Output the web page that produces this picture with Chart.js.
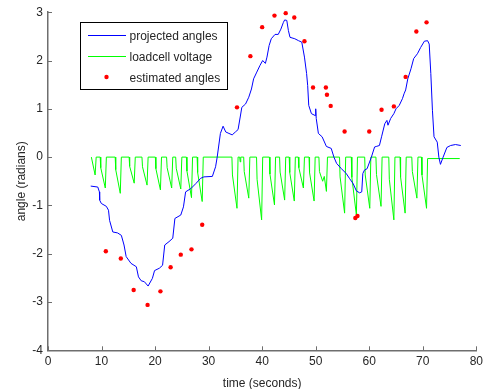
<!DOCTYPE html>
<html><head><meta charset="utf-8">
<script src="https://cdn.jsdelivr.net/npm/chart.js@4/dist/chart.umd.min.js"></script>
<style>html,body{margin:0;padding:0;background:#fff;}canvas{display:block;}</style>
</head><body>
<canvas id="c" width="487" height="389"></canvas>
<script>
// ---- data ----
const seriesNames = ['projected angles', 'loadcell voltage', 'estimated angles'];
const xTickValues = [0, 10, 20, 30, 40, 50, 60, 70, 80];
const yTickValues = [-4, -3, -2, -1, 0, 1, 2, 3];

const projT = [7.98,9.3,9.6,9.65,9.96,10.9,11.3,11.5,12.1,13.0,13.7,14.2,14.6,15.5,16.5,16.9,17.4,18.0,18.7,19.5,19.9,20.8,21.4,21.8,22.6,23.3,23.7,24.8,25.3,25.7,26.7,27.6,28.5,29.1,30.7,31.3,31.6,32.2,32.7,33.2,33.8,34.4,35.0,35.5,35.9,36.2,36.9,37.5,38.0,38.4,39.0,39.6,40.1,40.6,40.9,41.3,41.7,42.4,43.0,43.5,43.97,44.2,44.6,44.9,45.2,46.1,46.8,47.4,47.9,48.3,48.5,48.7,49.2,49.9,50.0,50.1,50.5,51.2,52.0,52.9,53.4,53.9,54.8,55.7,56.3,57.0,57.6,58.2,58.6,58.8,59.1,59.6,60.4,61.0,61.3,61.9,62.3,62.9,63.3,63.5,64.0,64.6,65.0,65.6,66.2,66.5,66.8,67.2,67.8,68.3,69.0,69.6,70.3,70.9,71.2,71.5,71.8,72.1,72.7,73.0,73.3,73.8,74.5,75.2,76.1,77.1];
const projAngle = [-0.60,-0.62,-0.72,-0.89,-0.96,-1.02,-1.10,-1.31,-1.55,-1.57,-1.62,-1.82,-2.06,-2.20,-2.27,-2.48,-2.56,-2.58,-2.67,-2.51,-2.35,-2.30,-2.24,-1.82,-1.75,-1.68,-1.27,-1.20,-1.03,-0.72,-0.65,-0.55,-0.44,-0.41,-0.40,-0.20,0.0,0.49,0.64,0.52,0.49,0.46,0.52,0.57,0.83,1.03,1.10,1.24,1.41,1.62,1.76,1.90,2.00,1.94,2.07,2.31,2.45,2.54,2.54,2.65,2.79,2.84,2.83,2.62,2.48,2.45,2.41,2.38,2.07,1.73,1.48,1.07,0.90,0.86,1.00,0.80,0.49,0.42,0.22,0.18,0.0,-0.13,-0.24,-0.34,-0.44,-0.55,-0.70,-0.74,-0.72,-0.34,-0.27,-0.24,0.0,0.21,0.22,0.24,0.42,0.69,0.76,0.66,0.80,0.90,1.00,1.07,1.21,1.31,1.39,1.62,1.83,2.04,2.14,2.27,2.40,2.41,2.34,1.73,0.97,0.42,0.31,0.0,-0.15,0.0,0.20,0.24,0.26,0.24];

const loadT = [8.1,8.8,9.0, 9.75,9.85,10.7,10.9, 12.55,12.65,13.5,13.7, 15.15,15.25,16.1,16.3, 17.55,17.65,18.5,18.7, 20.05,20.15,21.0,21.2, 22.15,22.25,23.1,23.3, 23.85,23.95,24.8,25.0, 25.85,25.95,26.8,27.0, 27.85,27.95,28.8,29.0, 34.35,34.45,35.3,35.5, 35.8,35.9,36.0, 36.55,36.65,37.5,37.7, 38.95,39.05,39.9,40.1, 41.35,41.45,42.3,42.5, 43.25,43.35,44.2,44.4, 45.05,45.15,46.0,46.2, 46.75,46.85,47.7,47.9, 48.75,48.85,49.7,49.9, 50.6,50.7,51.3,51.6,52.0,52.2, 54.45,54.55,55.4,55.6, 56.65,56.75,57.6,57.8, 59.15,59.25,60.1,60.3, 61.25,61.35,62.2,62.4, 63.65,63.75,64.6,64.8, 65.75,65.85,66.7,66.9, 67.95,68.05,68.9,69.1, 69.75,69.85,70.7,70.9, 76.9];
const loadV = [0,-0.37,0, 0,-0.22,-0.64,0, 0,-0.26,-0.75,0, 0,-0.19,-0.54,0, 0,-0.20,-0.58,0, 0,-0.24,-0.68,0, 0,-0.22,-0.64,0, 0,-0.23,-0.66,0, 0,-0.29,-0.84,0, 0,-0.32,-0.92,0, 0,-0.37,-1.06,0, 0,-0.10,0, 0,-0.30,-0.85,0, 0,-0.46,-1.30,0, 0,-0.35,-0.99,0, 0,-0.31,-0.89,0, 0,-0.32,-0.91,0, 0,-0.22,-0.64,0, 0,-0.32,-0.91,0, 0,-0.30,-0.50,-0.40,-0.71,0, 0,-0.41,-1.16,0, 0,-0.42,-1.20,0, 0,-0.37,-1.06,0, 0,-0.36,-1.02,0, 0,-0.46,-1.30,0, 0,-0.41,-1.16,0, 0,-0.30,-0.85,0, 0,-0.37,-1.06,-0.03, -0.03];

const estT = [10.8,13.6,16.0,18.6,21.0,22.9,24.8,26.8,28.8,35.3,37.8,40.0,42.3,44.4,46.0,47.9,49.5,51.9,52.1,52.8,55.4,57.4,57.8,60.0,62.3,64.6,66.8,68.8,70.7];
const estAngle = [-1.95,-2.10,-2.75,-3.06,-2.78,-2.28,-2.02,-1.91,-1.40,1.03,2.09,2.69,2.93,2.98,2.89,2.40,1.44,1.44,1.29,1.06,0.53,-1.26,-1.22,0.53,0.98,1.05,1.66,2.60,2.79];

// ---- build ----
const zip = (xs, ys) => xs.map((x, i) => ({x: x, y: ys[i]}));
const FONT = 'Liberation Sans, Arial, Helvetica, sans-serif';
const TXT = '#262626';
const AXIS = '#6e6e6e';

const inwardTicks = {
  id: 'inwardTicks',
  afterDraw(chart) {
    const ctx = chart.ctx, xs = chart.scales.x, ys = chart.scales.y;
    const L = xs.left, B = ys.bottom;
    ctx.save();
    ctx.strokeStyle = AXIS; ctx.lineWidth = 1;
    ctx.beginPath();
    xTickValues.forEach(v => { const p = Math.round(xs.getPixelForValue(v)) + 0.5; ctx.moveTo(p, B); ctx.lineTo(p, B - 4); });
    yTickValues.forEach(v => { const p = Math.round(ys.getPixelForValue(v)) + 0.5; ctx.moveTo(L, p); ctx.lineTo(L + 4, p); });
    ctx.stroke();
    ctx.restore();
  }
};

const boxLegend = {
  id: 'boxLegend',
  afterDraw(chart) {
    const ctx = chart.ctx;
    const bx = 80.5, by = 22.5, bw = 147, bh = 67;
    ctx.save();
    ctx.fillStyle = '#fff'; ctx.fillRect(bx, by, bw, bh);
    ctx.strokeStyle = '#000'; ctx.lineWidth = 1; ctx.strokeRect(bx, by, bw, bh);
    ctx.font = '12px ' + FONT; ctx.fillStyle = TXT; ctx.textBaseline = 'middle'; ctx.textAlign = 'left';
    const rows = [35, 56, 77];
    chart.data.datasets.forEach((ds, i) => {
      const y = rows[i];
      if (ds.showLine !== false) {
        ctx.strokeStyle = ds.borderColor; ctx.lineWidth = 1;
        ctx.beginPath(); ctx.moveTo(88, y + 0.5); ctx.lineTo(126, y + 0.5); ctx.stroke();
      } else {
        ctx.fillStyle = ds.backgroundColor;
        ctx.beginPath(); ctx.arc(106.5, y, 2.2, 0, Math.PI * 2); ctx.fill();
      }
      ctx.fillStyle = TXT;
      ctx.fillText(ds.label, 129.5, y + 1.5);
    });
    ctx.restore();
  }
};

new Chart(document.getElementById('c'), {
  type: 'line',
  data: {
    datasets: [
      {label: seriesNames[0], data: zip(projT, projAngle), borderColor: '#0000ff', borderWidth: 1, pointRadius: 0, tension: 0, order: 1},
      {label: seriesNames[1], data: zip(loadT, loadV), borderColor: '#00ff00', borderWidth: 1, pointRadius: 0, tension: 0, order: 2},
      {label: seriesNames[2], data: zip(estT, estAngle), showLine: false, backgroundColor: '#ff0000', borderColor: '#ff0000', borderWidth: 0, pointRadius: 2.2, pointStyle: 'circle', order: 0, clip: false}
    ]
  },
  options: {
    responsive: false, animation: false, devicePixelRatio: 1,
    layout: {padding: {top: 11.7, right: 7.7, left: 0, bottom: 0}},
    plugins: {legend: {display: false}, tooltip: {enabled: false}},
    scales: {
      x: {
        type: 'linear', min: 0, max: 80,
        afterBuildTicks: s => { s.ticks = xTickValues.map(v => ({value: v})); },
        ticks: {font: {family: FONT, size: 12}, color: TXT, padding: 4, maxRotation: 0},
        grid: {display: false, drawTicks: false},
        border: {display: true, color: AXIS, width: 1.5},
        title: {display: true, text: 'time (seconds)', font: {family: FONT, size: 12}, color: TXT, padding: {top: 0, bottom: -2}},
        afterFit: s => { s.height = 38.7; }
      },
      y: {
        type: 'linear', min: -4, max: 3,
        afterBuildTicks: s => { s.ticks = yTickValues.map(v => ({value: v})); },
        ticks: {font: {family: FONT, size: 12}, color: TXT, padding: 5},
        grid: {display: false, drawTicks: false},
        border: {display: true, color: AXIS, width: 1.5},
        title: {display: true, text: 'angle (radians)', font: {family: FONT, size: 12}, color: TXT, padding: {top: 14, bottom: 0}},
        afterFit: s => { s.width = 48; }
      }
    }
  },
  plugins: [inwardTicks, boxLegend]
});
</script>
</body></html>
